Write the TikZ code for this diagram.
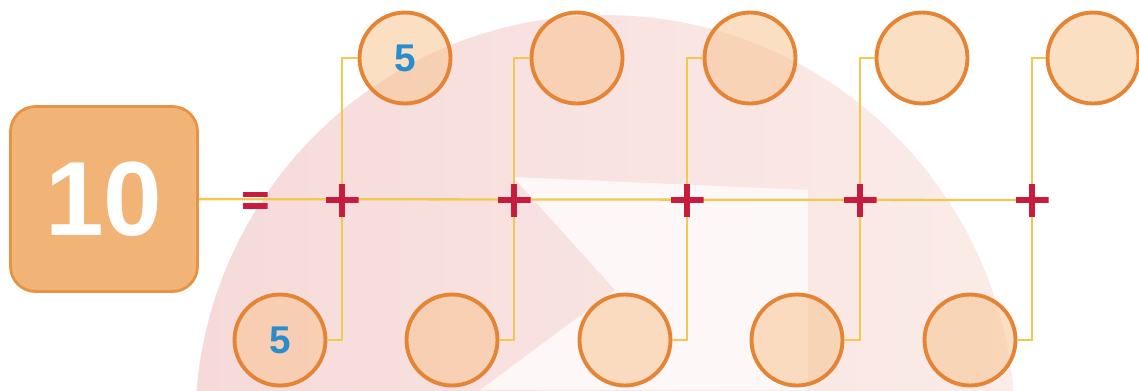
\documentclass[tikz,border=0pt]{standalone}
\usepackage{fontspec}
\setmainfont{Liberation Sans}
\usepackage{tikz}
\usetikzlibrary{positioning}
\definecolor{boxfill}{RGB}{241,180,118}
\definecolor{boxrim}{RGB}{228,148,68}
\definecolor{ballfill}{RGB}{248,196,146}
\definecolor{ballrim}{RGB}{228,132,52}
\definecolor{linkcol}{RGB}{242,200,80}
\definecolor{plusred}{RGB}{200,28,62}
\definecolor{fiveblue}{RGB}{40,140,205}
\definecolor{bgpinkL}{RGB}{246,218,218}
\definecolor{bgpinkR}{RGB}{251,236,232}

\begin{document}
\begin{tikzpicture}[x=0.02cm,y=-0.02cm,
  numbox/.style={draw=boxrim,line width=1.6pt,fill=boxfill,rounded corners=0.5cm,minimum width=3.74cm,minimum height=3.7cm,inner sep=0pt,text=white,font=\bfseries\fontsize{60}{60}\selectfont},
  ball/.style={circle,draw=ballrim,line width=2.2pt,fill=ballfill,fill opacity=0.55,text opacity=1,minimum size=1.82cm,inner sep=0pt,text=fiveblue,font=\bfseries\fontsize{22}{22}\selectfont},
  link/.style={draw=linkcol,line width=1.3pt},
  plussign/.style={minimum size=0.66cm,inner sep=0pt,path picture={\draw[plusred,line width=3.6pt] (path picture bounding box.north)--(path picture bounding box.south) (path picture bounding box.west)--(path picture bounding box.east);}},
  eqsign/.style={minimum width=0.5cm,minimum height=0.34cm,inner sep=0pt,path picture={\fill[plusred] (path picture bounding box.north west) rectangle ([yshift=-0.11cm]path picture bounding box.north east); \fill[plusred] ([yshift=0.11cm]path picture bounding box.south west) rectangle (path picture bounding box.south east);}}]
\useasboundingbox (0,0) rectangle (1139,390);
\begin{scope}
\clip (0,0) rectangle (1139,390);
\shade[left color=bgpinkL,right color=bgpinkR] (605,425) circle[radius=8.2cm];
\fill[white,opacity=0.75] (513,177) -- (808,190) -- (808,390) -- (480,390) -- (615,290) -- cycle;
\end{scope}
\coordinate (j1) at (342,200);
\coordinate (j2) at (514,200);
\coordinate (j3) at (687,200);
\coordinate (j4) at (860,200);
\coordinate (j5) at (1032,200);
\node[numbox] (ten) at (104,199) {10};
\node[ball] (t1) at (405,58) {5};
\node[ball] (t2) at (577,58) {};
\node[ball] (t3) at (750,58) {};
\node[ball] (t4) at (922,58) {};
\node[ball] (t5) at (1093,58) {};
\node[ball] (b1) at (280,340) {5};
\node[ball] (b2) at (452,340) {};
\node[ball] (b3) at (625,340) {};
\node[ball] (b4) at (797,340) {};
\node[ball] (b5) at (970,340) {};
\draw[link] (ten) -- (j5);
\draw[link] (j1) |- (t1);
\draw[link] (j2) |- (t2);
\draw[link] (j3) |- (t3);
\draw[link] (j4) |- (t4);
\draw[link] (j5) |- (t5);
\draw[link] (j1) |- (b1);
\draw[link] (j2) |- (b2);
\draw[link] (j3) |- (b3);
\draw[link] (j4) |- (b4);
\draw[link] (j5) |- (b5);
\node[eqsign] (eq) at (255,200) {};
\node[plussign] (p1) at (j1) {};
\node[plussign] (p2) at (j2) {};
\node[plussign] (p3) at (j3) {};
\node[plussign] (p4) at (j4) {};
\node[plussign] (p5) at (j5) {};
\end{tikzpicture}
\end{document}
